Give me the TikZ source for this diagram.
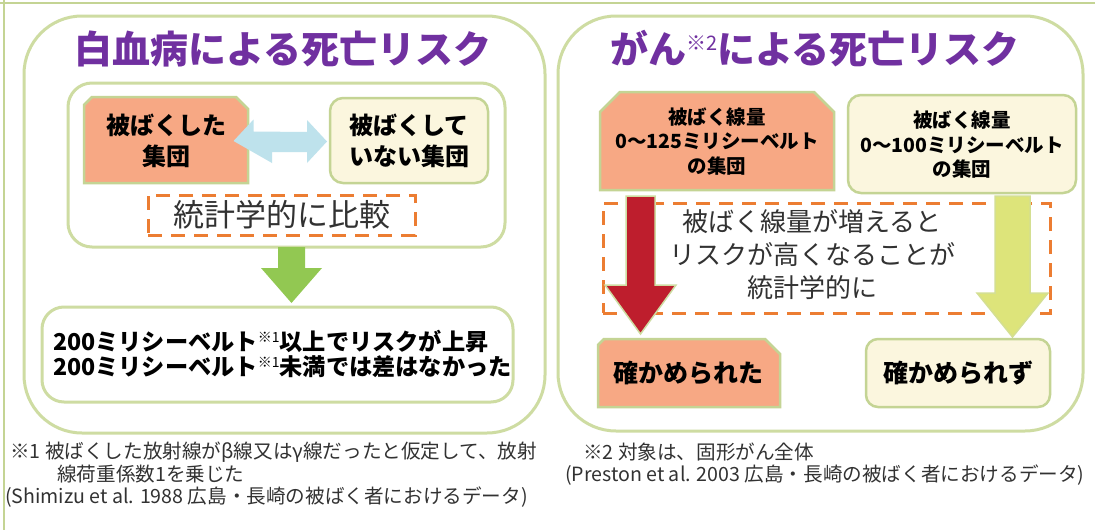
\documentclass[tikz,border=0pt]{standalone}
\usepackage{fontspec}
\setmainfont{Noto Sans CJK JP}
\usetikzlibrary{calc}
\definecolor{ttlpurple}{RGB}{112,48,160}
\definecolor{pgreen}{RGB}{206,220,162}
\definecolor{bgreen}{RGB}{196,212,148}
\definecolor{ofill}{RGB}{247,168,132}
\definecolor{cfill}{RGB}{251,246,222}
\definecolor{dorange}{RGB}{236,125,50}
\definecolor{agreen}{RGB}{146,200,82}
\definecolor{ablue}{RGB}{190,226,236}
\definecolor{ared}{RGB}{190,30,45}
\definecolor{ayellow}{RGB}{221,228,122}
\definecolor{txtgray}{RGB}{50,50,50}
\newcommand\fsz[2]{\fontsize{#1pt}{#2pt}\selectfont}
\newcommand\supmark[2]{\raisebox{#2}{\mdseries\fsz{#1}{#1}※1}}
\newcommand\chbox[6]{\filldraw[obox] (#1,#4) -- (#1,#2+#5) -- (#1+#5,#2) -- (#3-#6,#2) -- (#3,#2+#6) -- (#3,#4) -- cycle;}
\begin{document}
\begin{tikzpicture}[x=1pt,y=-1pt,
  panel/.style={draw=pgreen,line width=3pt,rounded corners=58pt,fill=white},
  inner/.style={draw=pgreen,line width=3pt,rounded corners=24pt},
  obox/.style={draw=bgreen,line width=2.5pt,fill=ofill},
  cbox/.style={draw=bgreen,line width=2.5pt,fill=cfill,rounded corners=13pt},
  dbox/.style={draw=dorange,line width=3pt,dash pattern=on 14pt off 9pt},
  ttl/.style={text=ttlpurple,font=\bfseries\fsz{38}{44}},
  btext/.style={align=center,font=\bfseries\fsz{24}{31},text=black},
  stext/.style={align=center,font=\bfseries\fsz{19.5}{24.5},text=black},
  note/.style={anchor=west,text=txtgray,font=\fsz{19.6}{22.5},inner sep=0pt},
  frame/.style={draw=bgreen,line width=2.5pt},
  fat/.style={line width=1.5pt,line join=miter}
]
\useasboundingbox (0,0) rectangle (1095,530);
\fill[white] (0,0) rectangle (1095,530);
% outer frame (only top and left edges visible)
\draw[frame] (0,3) -- (1095,3);
\draw[frame] (4,0) -- (4,530);

% ===== left panel =====
\node[panel,minimum width=521pt,minimum height=417pt] (lp) at (284.5,224.5) {};
\node[ttl] (t1) at (283,49) {白血病による死亡リスク};
\node[inner,minimum width=437pt,minimum height=164pt] (lin) at (286.5,165) {};
\chbox{84}{97}{248}{183}{8}{12}
\node[btext] (exp) at (166,141) {被ばくした\\集団};
\node[cbox,minimum width=158pt,minimum height=85pt] (nexp) at (409,140.5) {};
\node[btext] (nexpt) at (409,141) {被ばくして\\いない集団};
\fill[ablue] ($(exp.east)+(4,0)$) coordinate (da1)
  -- ++(20,-21.5) -- ++(0,12) -- (307,132) -- (307,120) -- (327,141.5)
  -- (307,163) -- (307,152) -- (272,152) -- (272,163) -- cycle;
\node[dbox,minimum width=267pt,minimum height=40pt,text=txtgray,font=\fsz{31}{31}] (cmp) at (281.5,215) {統計学的に比較};
\fill[agreen] (278,247) -- (305,247) -- (305,268) -- (322,268) -- (291.5,303) -- (261,268) -- (278,268) -- cycle;
\node[inner,rounded corners=22pt,minimum width=471pt,minimum height=95pt] (res) at (277.5,354.5) {};
\node[anchor=west,align=left,font=\bfseries\fsz{23.2}{25},text=black,inner sep=0pt] (rest) at (53,354) {200ミリシーベルト\supmark{14}{8pt}以上でリスクが上昇\\200ミリシーベルト\supmark{14}{8pt}未満では差はなかった};
\node[note] (n1a) at (10,452) {※1 被ばくした放射線がβ線又はγ線だったと仮定して、放射};
\node[note] (n1b) at (57,474) {線荷重係数1を乗じた};
\node[note] (n1c) at (5,497) {(Shimizu et al. 1988 広島・長崎の被ばく者におけるデータ)};

% ===== right panel =====
\node[panel,minimum width=525pt,minimum height=415pt] (rp) at (820.5,223.5) {};
\node[ttl] (t2) at (815,49) {がん\raisebox{13pt}{\mdseries\fsz{20}{20}※2}による死亡リスク};
\chbox{600}{92}{834}{190}{20}{20}
\node[stext] (g1) at (717,141.5) {被ばく線量\\0～125ミリシーベルト\\の集団};
\node[cbox,minimum width=228pt,minimum height=98pt] (g2b) at (962,144) {};
\node[stext] (g2) at (962,145) {被ばく線量\\0～100ミリシーベルト\\の集団};
\node[dbox,minimum width=447pt,minimum height=110pt] (cmp2) at (826.5,258) {};
\node[align=center,text=txtgray,font=\fsz{26}{33}] (st2) at (812,255) {被ばく線量が増えると\\リスクが高くなることが\\統計学的に};
\filldraw[fat,fill=ared,draw=pgreen] (626,196) -- (655,196) -- (655,285) -- (676,285) -- (640.5,334) -- (605,285) -- (626,285) -- cycle;
\filldraw[fat,fill=ayellow,draw=pgreen!60!ayellow] (995,196) -- (1030,196) -- (1030,293) -- (1048,293) -- (1012.5,337) -- (977,293) -- (995,293) -- cycle;
\chbox{598}{339}{780}{407}{6}{15}
\node[btext,font=\bfseries\fsz{25}{30}] (ok) at (688,373) {確かめられた};
\node[cbox,rounded corners=12pt,minimum width=184pt,minimum height=68pt] (ngb) at (958,373) {};
\node[btext,font=\bfseries\fsz{25}{30}] (ng) at (958,373) {確かめられず};
\node[note] (n2a) at (583,452) {※2 対象は、固形がん全体};
\node[note] (n2b) at (565,475) {(Preston et al. 2003 広島・長崎の被ばく者におけるデータ)};
\end{tikzpicture}
\end{document}
